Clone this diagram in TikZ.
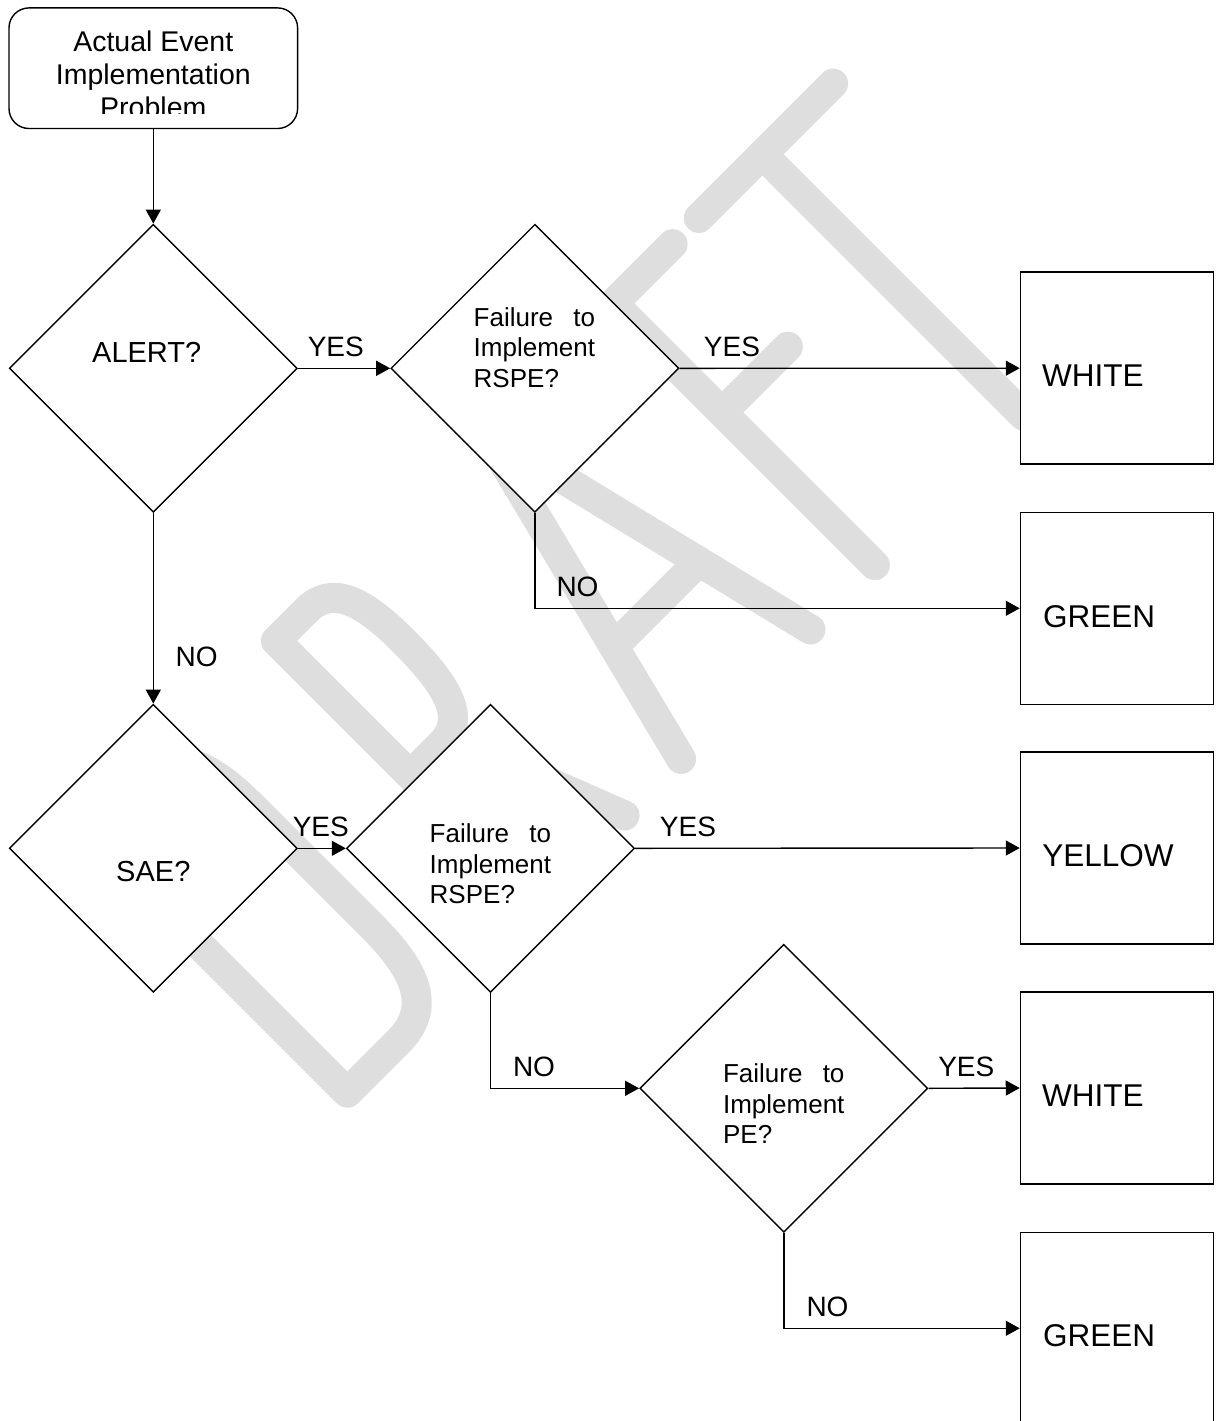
\documentclass[tikz,border=0pt]{standalone}
\usepackage{fontspec}
\setmainfont{Liberation Sans}
\usetikzlibrary{positioning, arrows.meta, shapes.geometric}

\definecolor{wmgray}{RGB}{222,222,222}

\newcommand{\failtxt}[1]{\begin{tabular}[t]{@{}l@{}}Failure\hfill to\\Implement\\#1\end{tabular}}

\begin{document}
\begin{tikzpicture}[
    x=0.5pt, y=-0.5pt,
    arrow/.style={-{Triangle[length=7pt, width=7.5pt]}, line width=0.7pt},
    decision/.style={diamond, draw, fill=white, line width=0.7pt, inner sep=0pt, minimum width=144pt, minimum height=144pt},
    outcome/.style={rectangle, draw, fill=white, line width=0.75pt, minimum width=96.5pt, minimum height=96pt},
    question/.style={inner sep=0pt, anchor=base west, font=\fontsize{13}{15.3}\selectfont},
    yesno/.style={inner sep=0pt, font=\fontsize{14}{16}\selectfont},
    result/.style={inner sep=0pt, anchor=west, font=\fontsize{15.75}{18}\selectfont}
]
    \useasboundingbox (0,0) rectangle (1217,1421);
    \clip (0,0) rectangle (1217,1421);

    % Watermark
    \begin{scope}[shift={(720,720)}, rotate=45, y=0.5pt,
        color=wmgray, line width=15pt, line cap=round, line join=round]
        % D
        \draw (-527,0) -- (-527,370) -- (-455,370) .. controls (-405,370) and (-392,330) .. (-392,270)
            -- (-392,100) .. controls (-392,40) and (-405,0) .. (-455,0) -- cycle;
        % R
        \draw (-258,0) -- (-258,370) -- (-215,370) .. controls (-180,370) and (-168,340) .. (-168,280)
            .. controls (-168,210) and (-180,180) .. (-215,180) -- (-258,180);
        \draw (-205,180) -- (-135,0);
        % A
        \draw (-55,0) -- (38,370) -- (128,0);
        \draw (-23,127) -- (97,127);
        % F
        \draw (303,370) -- (219,370) -- (219,0);
        \draw (219,216) -- (312,216);
        % T
        \draw (340,370) -- (530,370);
        \draw (430,370) -- (430,0);
    \end{scope}

    % Start box
    \node[draw, fill=white, rounded corners=10pt, line width=0.7pt,
        minimum width=144.3pt, minimum height=60.3pt] (start) at (153.3,68.2) {};
    \begin{scope}
        \clip (9,8) rectangle (298,113);
        \node[inner sep=0pt, anchor=base, font=\fontsize{14.25}{16.5}\selectfont] (startTxt) at (153.3,51.7)
            {\begin{tabular}[t]{@{}c@{}}Actual Event\\Implementation\\Problem\end{tabular}};
    \end{scope}

    % Decisions
    \node[decision] (alert) at (153.3,368.3) {};
    \node[decision] (rspeA) at (534.9,368.3) {};
    \node[decision] (sae) at (153.3,848.3) {};
    \node[decision] (rspeB) at (490.5,848.3) {};
    \node[decision] (pe) at (783.8,1088.3) {};

    \node[yesno, font=\fontsize{14.5}{17}\selectfont] (alertTxt) at (146.7,352) {ALERT?};
    \node[yesno, font=\fontsize{14.5}{17}\selectfont] (saeTxt) at (153.3,871.7) {SAE?};
    \node[question] (rspeATxt) at (473.3,326) {\failtxt{RSPE?}};
    \node[question] (rspeBTxt) at (429.3,842.7) {\failtxt{RSPE?}};
    \node[question] (peTxt) at (722.7,1082.7) {\failtxt{PE?}};

    % Outcomes
    \node[outcome] (whiteA) at (1117,368.2) {};
    \node[outcome] (greenA) at (1117,608.3) {};
    \node[outcome] (yellow) at (1117,848) {};
    \node[outcome] (whiteB) at (1117,1088) {};
    \node[outcome] (greenB) at (1117,1328.3) {};

    \node[result] (whiteATxt) at (1041.7,375.3) {WHITE};
    \node[result] (greenATxt) at (1042.7,616.3) {GREEN};
    \node[result] (yellowTxt) at (1042,855.5) {YELLOW};
    \node[result] (whiteBTxt) at (1041.7,1095.5) {WHITE};
    \node[result] (greenBTxt) at (1042.7,1335.3) {GREEN};

    % Connectors
    \draw[arrow] (start) -- (alert);
    \draw[arrow] (alert.east) -- (rspeA.west);
    \draw[arrow] (rspeA.east) -- (whiteA.west);
    \draw[arrow] (rspeA.south) |- (greenA.west);
    \draw[arrow] (alert.south) -- (sae.north);
    \draw[arrow] (sae.east) -- (rspeB.west);
    \draw[arrow] (rspeB.east) -- (yellow.west);
    \draw[arrow] (rspeB.south) |- (pe.west);
    \draw[arrow] (pe.east) -- (whiteB.west);
    \draw[arrow] (pe.south) |- (greenB.west);

    % YES / NO labels
    \node[yesno] (yesA) at (335.8,346.7) {YES};
    \node[yesno] (yesB) at (732,346.7) {YES};
    \node[yesno] (noA) at (577.5,586.7) {NO};
    \node[yesno] (noAlert) at (196.7,657) {NO};
    \node[yesno] (yesC) at (320.8,826.7) {YES};
    \node[yesno] (yesD) at (688,826.7) {YES};
    \node[yesno] (noB) at (534,1066.7) {NO};
    \node[yesno] (yesE) at (966.3,1066.7) {YES};
    \node[yesno] (noC) at (827.5,1306.5) {NO};
\end{tikzpicture}
\end{document}
